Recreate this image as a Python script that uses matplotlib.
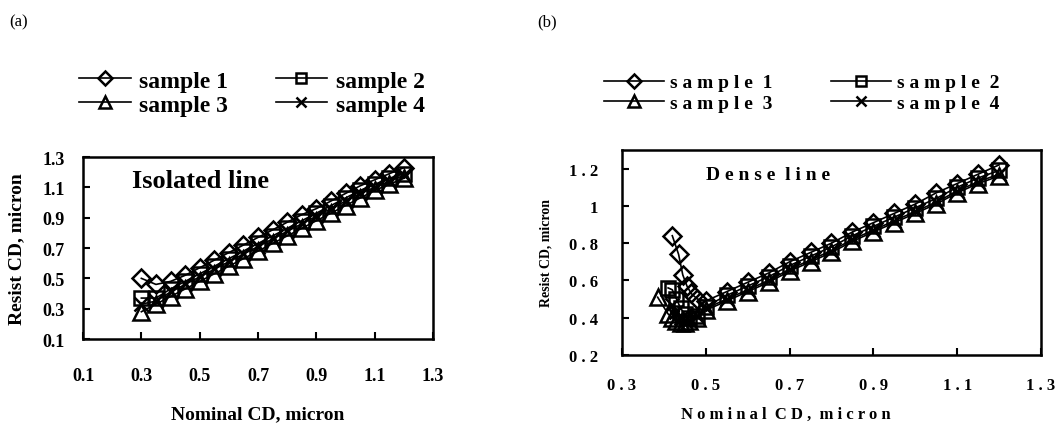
import numpy as np
import matplotlib
matplotlib.use('Agg')
import matplotlib.pyplot as plt

plt.rcParams['font.family'] = 'Liberation Serif'
plt.rcParams['font.weight'] = 'bold'

# (a) isolated lines: nominal CD 0.30 -> 1.20 in 0.05 steps
x_iso = [0.30, 0.35, 0.40, 0.45, 0.50, 0.55, 0.60, 0.65, 0.70, 0.75,
         0.80, 0.85, 0.90, 0.95, 1.00, 1.05, 1.10, 1.15, 1.20]
iso_s1 = [0.50, 0.46, 0.48, 0.52, 0.57, 0.62, 0.67, 0.72, 0.77, 0.82,
          0.87, 0.92, 0.96, 1.01, 1.06, 1.11, 1.15, 1.19, 1.23]
iso_s2 = [0.37, 0.37, 0.43, 0.48, 0.53, 0.58, 0.63, 0.68, 0.73, 0.78,
          0.83, 0.88, 0.93, 0.98, 1.03, 1.08, 1.12, 1.16, 1.19]
iso_s3 = [0.28, 0.33, 0.38, 0.43, 0.48, 0.53, 0.58, 0.63, 0.68, 0.73,
          0.78, 0.83, 0.88, 0.93, 0.98, 1.03, 1.08, 1.12, 1.16]
iso_s4 = [0.33, 0.35, 0.41, 0.46, 0.51, 0.56, 0.61, 0.66, 0.71, 0.76,
          0.81, 0.86, 0.91, 0.96, 1.01, 1.06, 1.10, 1.14, 1.18]

# (b) dense lines: finer sampling below 0.5, then 0.05 steps
x_dense_tail = [0.55, 0.60, 0.65, 0.70, 0.75, 0.80, 0.85, 0.90, 0.95,
                1.00, 1.05, 1.10, 1.15, 1.20]
x_dense_s1 = [0.42, 0.435, 0.445, 0.455, 0.465, 0.48, 0.50] + x_dense_tail
x_dense_s2 = [0.41, 0.42, 0.43, 0.44, 0.45, 0.46, 0.48, 0.50] + x_dense_tail
x_dense_s3 = [0.385, 0.41, 0.42, 0.43, 0.44, 0.45, 0.46, 0.48, 0.50] + x_dense_tail
x_dense_s4 = [0.42, 0.43, 0.44, 0.45, 0.46, 0.48, 0.50] + x_dense_tail
dense_s1 = [0.84, 0.74, 0.63, 0.57, 0.53, 0.50, 0.49,
            0.54, 0.59, 0.64, 0.70, 0.75, 0.80, 0.86, 0.91, 0.96, 1.01, 1.07, 1.12, 1.17, 1.22]
dense_s2 = [0.56, 0.55, 0.50, 0.45, 0.42, 0.40, 0.41, 0.46,
            0.52, 0.57, 0.62, 0.68, 0.73, 0.78, 0.84, 0.89, 0.94, 0.99, 1.04, 1.10, 1.15, 1.19]
dense_s3 = [0.51, 0.42, 0.40, 0.38, 0.37, 0.37, 0.38, 0.40, 0.44,
            0.49, 0.54, 0.59, 0.65, 0.70, 0.75, 0.81, 0.86, 0.91, 0.96, 1.01, 1.07, 1.12, 1.16]
dense_s4 = [0.47, 0.43, 0.40, 0.39, 0.39, 0.41, 0.45,
            0.50, 0.55, 0.60, 0.66, 0.71, 0.76, 0.82, 0.87, 0.92, 0.97, 1.02, 1.08, 1.13, 1.17]

labels_a = ['sample 1', 'sample 2', 'sample 3', 'sample 4']
labels_b = ['s a m p l e  1', 's a m p l e  2', 's a m p l e  3', 's a m p l e  4']
markers = ['D', 's', '^', 'x']
msizes = [9, 10, 11, 10]

xticks_a = [0.1, 0.3, 0.5, 0.7, 0.9, 1.1, 1.3]
yticks_a = [0.1, 0.3, 0.5, 0.7, 0.9, 1.1, 1.3]
xticks_b = [0.3, 0.5, 0.7, 0.9, 1.1, 1.3]
xticklabels_b = ['0 . 3', '0 . 5', '0 . 7', '0 . 9', '1 . 1', '1 . 3']
yticks_b = [0.2, 0.4, 0.6, 0.8, 1.0, 1.2]
yticklabels_b = ['0 . 2', '0 . 4', '0 . 6', '0 . 8', '1', '1 . 2']

fig = plt.figure(figsize=(10.55, 4.27), dpi=100)
ax1 = fig.add_axes([0.0787, 0.2037, 0.3318, 0.4262])
ax2 = fig.add_axes([0.5896, 0.1663, 0.3971, 0.4801])

def draw(ax, xs, ys, labels):
    handles = []
    for x, y, m, ms, lab in zip(xs, ys, markers, msizes, labels):
        h, = ax.plot(x, y, color='black', lw=1.2, marker=m, ms=ms,
                     mfc='none', mec='black', mew=1.8, label=lab)
        handles.append(h)
    for s in ax.spines.values():
        s.set_linewidth(1.8)
    ax.tick_params(direction='in', length=5, width=1.5, top=False, right=False)
    return handles

def row_order(h):
    # legend fills column by column, so interleave to read 1 2 / 3 4
    return [h[0], h[2], h[1], h[3]]

h1 = draw(ax1, [x_iso] * 4, [iso_s1, iso_s2, iso_s3, iso_s4], labels_a)
ax1.set_xlim(0.1, 1.3)
ax1.set_ylim(0.1, 1.3)
ax1.set_xticks(xticks_a)
ax1.set_yticks(yticks_a)
ax1.set_xticklabels([f'{v:.1f}' for v in xticks_a], fontsize=13)
ax1.set_yticklabels([f'{v:.1f}' for v in yticks_a], fontsize=13)
ax1.tick_params(axis='x', pad=20)
ax1.tick_params(axis='y', pad=13)
ax1.set_xlabel('Nominal CD, micron', fontsize=14, fontweight='bold')
ax1.xaxis.set_label_coords(0.5, -0.365)
ax1.set_ylabel('Resist CD, micron', fontsize=14, fontweight='bold')
ax1.yaxis.set_label_coords(-0.165, 0.5)
ax1.text(0.14, 0.87, 'Isolated line', transform=ax1.transAxes,
         fontsize=19, fontweight='bold', va='center')
fig.legend(handles=row_order(h1), loc='center left', bbox_to_anchor=(0.066, 0.78), ncol=2,
           frameon=False, fontsize=17, handlelength=2.2, handletextpad=0.35,
           columnspacing=2.0, labelspacing=0.1, borderaxespad=0, markerscale=0.75)

h2 = draw(ax2, [x_dense_s1, x_dense_s2, x_dense_s3, x_dense_s4],
          [dense_s1, dense_s2, dense_s3, dense_s4], labels_b)
ax2.set_xlim(0.3, 1.3)
ax2.set_ylim(0.2, 1.3)
ax2.set_xticks(xticks_b)
ax2.set_yticks(yticks_b)
ax2.set_xticklabels(xticklabels_b, fontsize=12)
ax2.set_yticklabels(yticklabels_b, fontsize=12)
ax2.tick_params(axis='x', pad=16)
ax2.tick_params(axis='y', pad=17)
ax2.set_xlabel('N o m i n a l  C D ,  m i c r o n', fontsize=12, fontweight='bold')
ax2.xaxis.set_label_coords(0.39, -0.25)
ax2.set_ylabel('Resist CD, micron', fontsize=10, fontweight='bold')
ax2.yaxis.set_label_coords(-0.165, 0.5)
ax2.text(0.2, 0.88, 'D e n s e  l i n e', transform=ax2.transAxes,
         fontsize=14, fontweight='bold', va='center')
fig.legend(handles=row_order(h2), loc='center left', bbox_to_anchor=(0.565, 0.78), ncol=2,
           frameon=False, fontsize=14, handlelength=3.1, handletextpad=0.3,
           columnspacing=3.0, labelspacing=0.15, borderaxespad=0, markerscale=0.75)

fig.text(0.009, 0.948, '(a)', fontsize=12, fontweight='normal', va='center')
fig.text(0.509, 0.948, '(b)', fontsize=12, fontweight='normal', va='center')

plt.savefig('out.png', dpi=100)
